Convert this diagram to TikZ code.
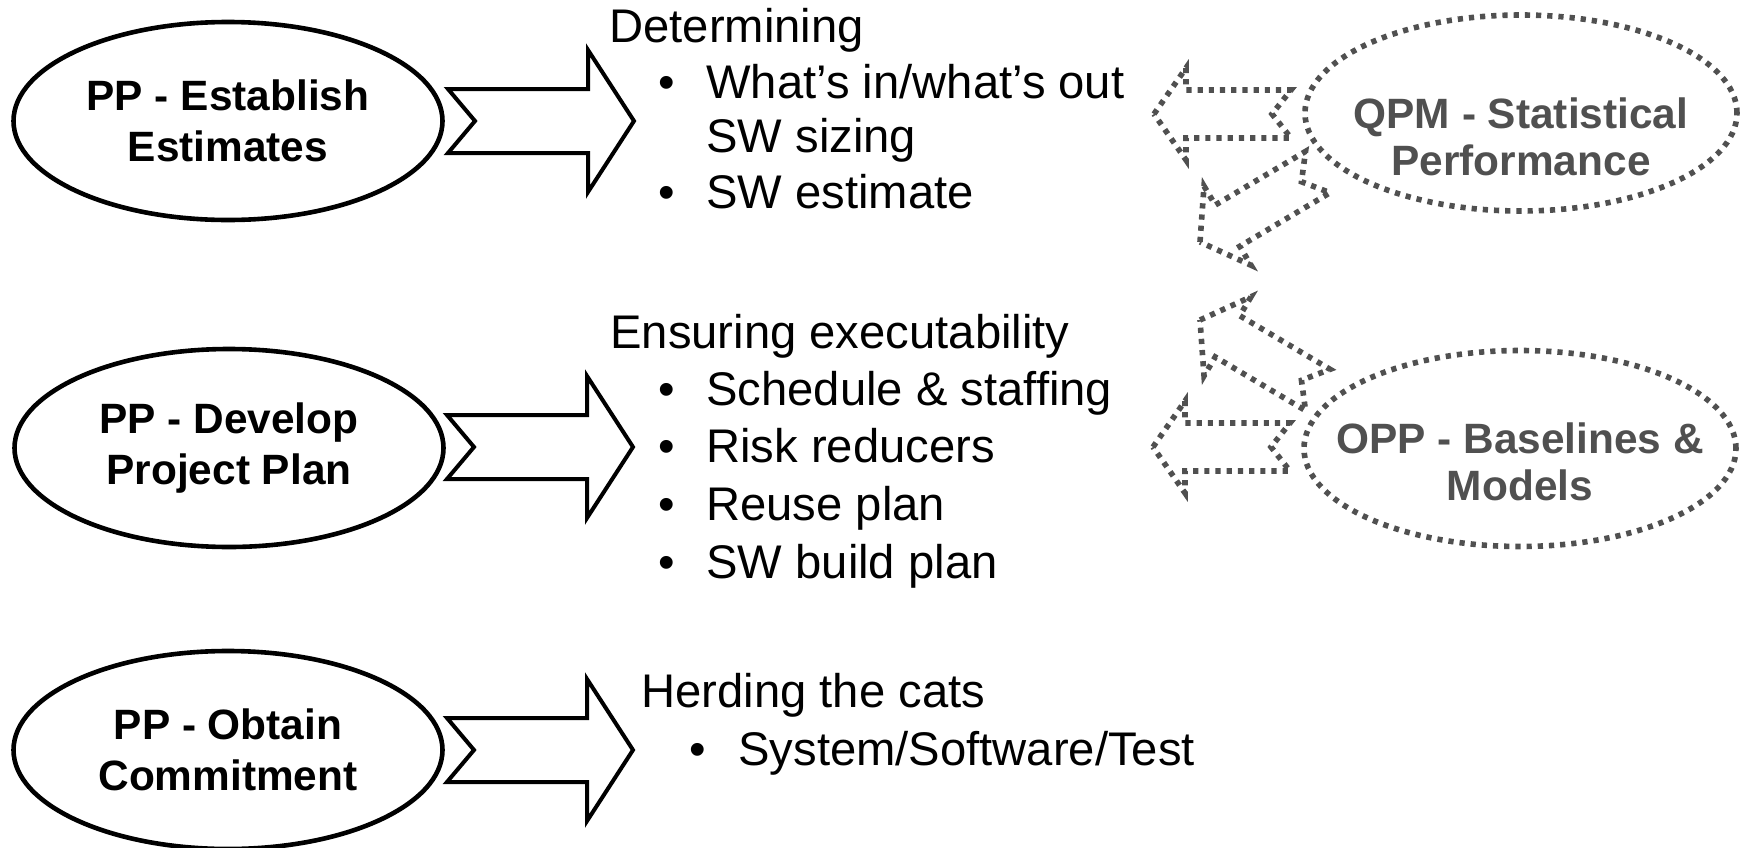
\documentclass[tikz,border=0pt]{standalone}
\usepackage{fontspec}
\setmainfont{Liberation Sans}[Ligatures=NoCommon]
\usetikzlibrary{shapes.geometric}
\definecolor{procgray}{RGB}{80,80,80}
\tikzset{
  dotline/.style={draw=procgray, line width=2.8pt, dash pattern=on 2.6pt off 3.0pt},
  % hollow block arrow with a notched tail, pointing right
  chevron/.pic={
    \draw[line width=2pt, fill=white, line join=miter]
      (0,-32) -- (140,-32) -- (140,-71) -- (186,0) -- (140,71)
      -- (140,32) -- (0,32) -- (27,0) -- cycle;
  },
  % dotted block arrow, tip at the origin, pointing left
  dotarrow/.pic={
    \draw[dotline, line join=miter]
      (0,0) -- (32,-46) -- (32,-24) -- (137,-24) -- (118,0)
      -- (137,24) -- (32,24) -- (32,46) -- cycle;
  }
}
\begin{document}
\begin{tikzpicture}[x=0.5pt, y=-0.5pt,
  pp/.style={ellipse, draw, line width=2.3pt, minimum width=214.5pt,
    minimum height=99pt, inner sep=0pt, align=center,
    font=\bfseries\fontsize{21.2pt}{25.5pt}\selectfont},
  support/.style={ellipse, dotline, minimum width=216pt,
    minimum height=98pt, inner sep=0pt},
  supporttext/.style={text=procgray, align=center, inner sep=0pt,
    font=\bfseries\fontsize{21.2pt}{23.5pt}\selectfont},
  heading/.style={anchor=base west, inner sep=0pt,
    font=\fontsize{23.6pt}{28.3pt}\selectfont},
  itemtext/.style={anchor=base west, inner sep=0pt,
    font=\fontsize{23.6pt}{28.3pt}\selectfont},
  bulletmark/.style={anchor=base, inner sep=0pt,
    font=\fontsize{23.6pt}{28.3pt}\selectfont},
]
% canvas
\fill[white] (0,0) rectangle (1742,847);
\useasboundingbox (0,0) rectangle (1742,847);

% planning steps
\node[pp] (est) at (228,121) {PP - Establish\\Estimates};
\node[pp] (dev) at (229,448) {PP - Develop\\Project Plan};
\node[pp] (obt) at (228,750) {PP - Obtain\\Commitment};

% block arrows out of each step
\pic at (448,121) {chevron};
\pic at (447,447) {chevron};
\pic at (447,750) {chevron};

% step 1 details
\node[heading] (det) at (609,42) {Determining};
\node[bulletmark] (b11) at (667,98) {•};
\node[itemtext] (i11) at (706,98) {What’s in/what’s out};
\node[itemtext] (i12) at (706,152) {SW sizing};
\node[bulletmark] (b12) at (667,208) {•};
\node[itemtext] (i13) at (706,208) {SW estimate};

% step 2 details
\node[heading] (ens) at (610,348) {Ensuring executability};
\node[bulletmark] (b21) at (667,405) {•};
\node[itemtext] (i21) at (706,405) {Schedule \& staffing};
\node[bulletmark] (b22) at (667,462) {•};
\node[itemtext] (i22) at (706,462) {Risk reducers};
\node[bulletmark] (b23) at (667,520) {•};
\node[itemtext] (i23) at (706,520) {Reuse plan};
\node[bulletmark] (b24) at (667,578) {•};
\node[itemtext] (i24) at (706,578) {SW build plan};

% step 3 details
\node[heading] (herd) at (641,707) {Herding the cats};
\node[bulletmark] (b31) at (698,765) {•};
\node[itemtext] (i31) at (738,765) {System/Software/Test};

% supporting process areas
\node[support] (qpm) at (1521,113) {};
\node[supporttext] (qpmtxt) at (1521,136.5) {QPM - Statistical\\Performance};
\node[support] (opp) at (1520,448.5) {};
\node[supporttext] (opptxt) at (1520,461.5) {OPP - Baselines \&\\Models};

% dotted inputs feeding the planning steps
\pic at (1154,114) {dotarrow};
\pic[rotate=30.7] at (1200,242) {dotarrow};
\pic[rotate=-30.7] at (1200,320) {dotarrow};
\pic at (1153,447) {dotarrow};
\end{tikzpicture}
\end{document}
